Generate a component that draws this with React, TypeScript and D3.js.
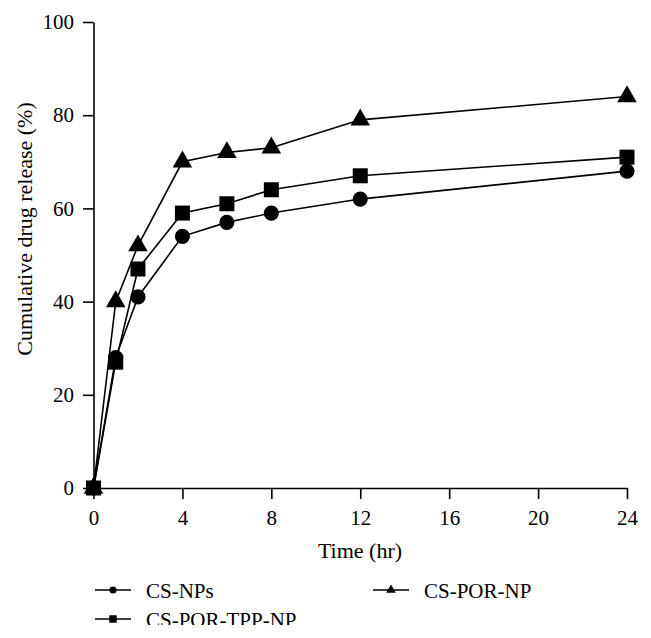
import React, { useEffect, useRef } from "react";
import * as d3 from "d3";

const times = [0, 1, 2, 4, 6, 8, 12, 24];
const csNPs = [0, 28, 41, 54, 57, 59, 62, 68];
const csPorTppNp = [0, 27, 47, 59, 61, 64, 67, 71];
const csPorNp = [0, 40, 52, 70, 72, 73, 79, 84];
const xTicks = [0, 4, 8, 12, 16, 20, 24];
const yTicks = [0, 20, 40, 60, 80, 100];
const seriesNames = ["CS-NPs", "CS-POR-TPP-NP", "CS-POR-NP"];

const W = 651;
const H = 638;
const FONT = "'Liberation Serif', 'Times New Roman', serif";

export default function App() {
  const ref = useRef<SVGSVGElement | null>(null);

  useEffect(() => {
    const svg = d3.select(ref.current);
    svg.selectAll("*").remove();

    const x = d3.scaleLinear().domain([0, 24]).range([93.5, 627]);
    const y = d3.scaleLinear().domain([0, 100]).range([488, 22]);

    // axes
    const gx = svg
      .append("g")
      .attr("transform", `translate(0,${y(0)})`)
      .call(d3.axisBottom(x).tickValues(xTicks).tickSize(11).tickSizeOuter(0).tickPadding(11));
    const gy = svg
      .append("g")
      .attr("transform", `translate(${x(0)},0)`)
      .call(d3.axisLeft(y).tickValues(yTicks).tickSize(10.5).tickSizeOuter(0).tickPadding(9));
    [gx, gy].forEach((g) => {
      g.attr("font-family", FONT).attr("font-size", 21);
      g.selectAll("path").attr("stroke", "#000").attr("stroke-width", 1.6);
      g.selectAll("line").attr("stroke", "#000").attr("stroke-width", 1.6);
      g.selectAll("text").attr("fill", "#000");
    });

    // titles
    svg
      .append("text")
      .attr("x", 360)
      .attr("y", 558)
      .attr("text-anchor", "middle")
      .attr("font-family", FONT)
      .attr("font-size", 22)
      .text("Time (hr)");
    svg
      .append("text")
      .attr("transform", `translate(32,229) rotate(-90)`)
      .attr("text-anchor", "middle")
      .attr("font-family", FONT)
      .attr("font-size", 22)
      .text("Cumulative drug release (%)");

    const series = [
      { name: seriesNames[0], values: csNPs, symbol: d3.symbolCircle, size: 180, lsize: 40 },
      { name: seriesNames[2], values: csPorNp, symbol: d3.symbolTriangle, size: 165, lsize: 40 },
      { name: seriesNames[1], values: csPorTppNp, symbol: d3.symbolSquare, size: 225, lsize: 56 },
    ];

    const line = d3
      .line<number>()
      .x((_, i) => x(times[i]))
      .y((d) => y(d));

    series.forEach((s) => {
      svg
        .append("path")
        .attr("d", line(s.values))
        .attr("fill", "none")
        .attr("stroke", "#000")
        .attr("stroke-width", 1.6);
    });
    series.forEach((s) => {
      svg
        .append("g")
        .selectAll("path")
        .data(s.values)
        .join("path")
        .attr("transform", (d, i) => `translate(${x(times[i])},${y(d)})`)
        .attr("d", d3.symbol().type(s.symbol).size(s.size)())
        .attr("fill", "#000");
    });

    // legend
    const defs = svg.append("defs");
    defs
      .append("clipPath")
      .attr("id", "legclip")
      .append("rect")
      .attr("x", 0)
      .attr("y", 560)
      .attr("width", W)
      .attr("height", 65);
    const leg = svg.append("g").attr("clip-path", "url(#legclip)");
    const legItems = [
      { s: series[0], lx: 95, ly: 590 },
      { s: series[2], lx: 95, ly: 619 },
      { s: series[1], lx: 373, ly: 590 },
    ];
    legItems.forEach(({ s, lx, ly }) => {
      leg
        .append("line")
        .attr("x1", lx)
        .attr("x2", lx + 36)
        .attr("y1", ly)
        .attr("y2", ly)
        .attr("stroke", "#000")
        .attr("stroke-width", 1.6);
      leg
        .append("path")
        .attr("transform", `translate(${lx + 18},${ly})`)
        .attr("d", d3.symbol().type(s.symbol).size(s.lsize)())
        .attr("fill", "#000");
      leg
        .append("text")
        .attr("x", lx + 51)
        .attr("y", ly + 7.5)
        .attr("font-family", FONT)
        .attr("font-size", 21)
        .text(s.name);
    });
  }, []);

  return (
    <svg
      ref={ref}
      width={W}
      height={H}
      style={{ position: "absolute", left: 0, top: 0, background: "#fff", display: "block" }}
    />
  );
}
